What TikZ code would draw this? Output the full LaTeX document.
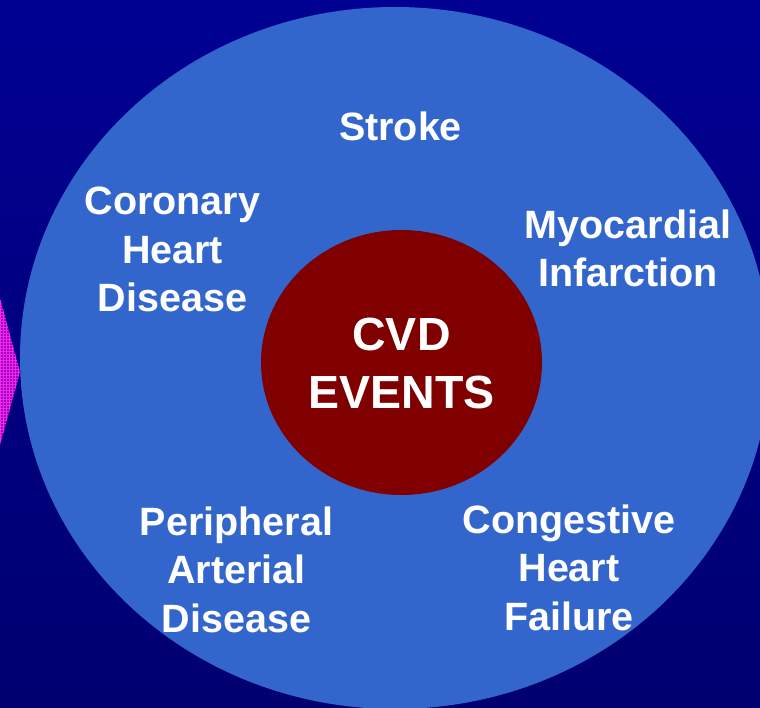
\documentclass[tikz,border=0pt]{standalone}
\usepackage{fontspec}
\setmainfont{Liberation Sans}
\usetikzlibrary{patterns}
\definecolor{bgtop}{RGB}{0,0,146}
\definecolor{bgbot}{RGB}{0,0,112}
\definecolor{ringblue}{RGB}{51,102,204}
\definecolor{coremaroon}{RGB}{128,0,0}
\definecolor{arrowpink}{RGB}{165,0,190}
\definecolor{gridpink}{RGB}{235,40,235}

\begin{document}
\begin{tikzpicture}[x=1pt,y=-1pt,
    evtext/.style={text=white, font=\bfseries\fontsize{39.5}{48.5}\selectfont,
      align=center, anchor=base, inner sep=0pt},
    coretext/.style={text=white, font=\bfseries\fontsize{46.5}{58}\selectfont,
      align=center, anchor=base, inner sep=0pt}]
        \useasboundingbox (0,0) rectangle (760,708);
        \shade[top color=bgtop, bottom color=bgbot] (0,0) rectangle (760,708);
        % arrow tip peeking in at the left edge
        \fill[arrowpink] (0,298) -- (20,372) -- (0,445) -- cycle;
        \fill[pattern=grid, pattern color=gridpink] (0,298) -- (20,372) -- (0,445) -- cycle;
        % outer ring of events
        \fill[ringblue] (395,358) ellipse [x radius=375pt, y radius=351pt];
        % core
        \fill[coremaroon] (401.5,362.5) ellipse [x radius=140.5pt, y radius=132.5pt];
        % base = baseline of the last line
        \node[coretext] (cvd) at (401.5,408) {CVD\\EVENTS};
        % outcomes round the core
        \node[evtext] (stroke) at (400.5,141) {Stroke};
        \node[evtext] (chd) at (172.5,312) {Coronary\\Heart\\Disease};
        \node[evtext] (mi) at (628,287) {Myocardial\\Infarction};
        \node[evtext] (chf) at (569,630) {Congestive\\Heart\\Failure};
        \node[evtext] (pad) at (236.5,632) {Peripheral\\Arterial\\Disease};
      \end{tikzpicture}
\end{document}
